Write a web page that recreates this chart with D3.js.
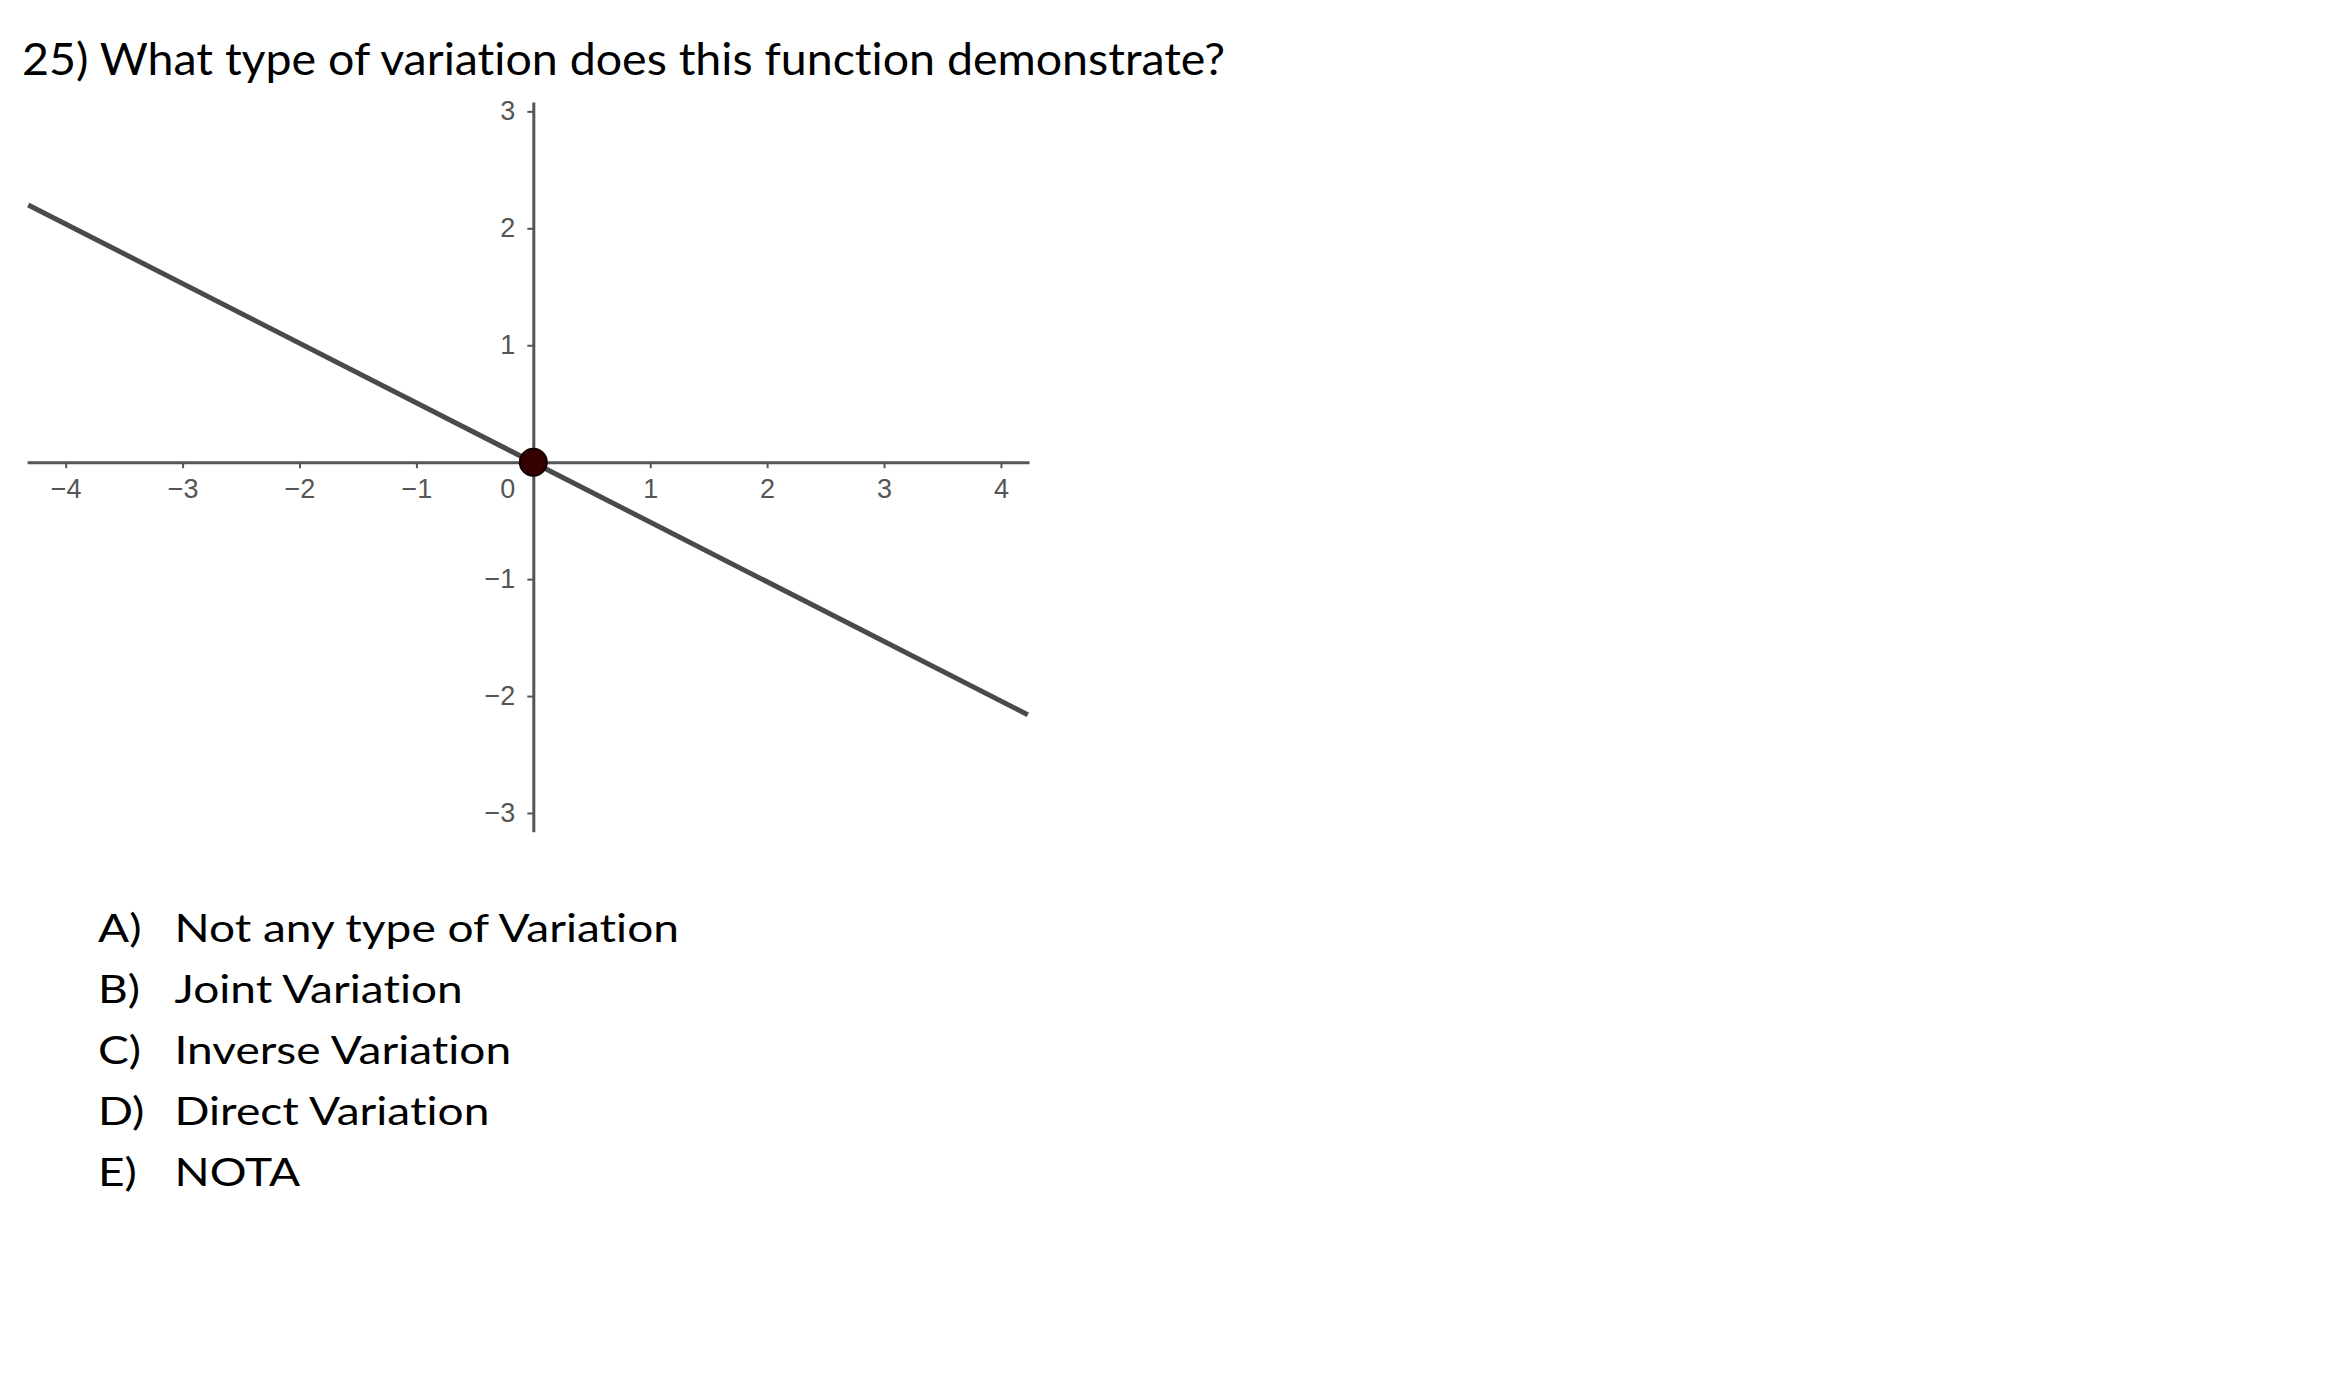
<!DOCTYPE html>
<html><head><meta charset="utf-8">
<script src="https://cdn.jsdelivr.net/npm/d3@7"></script>
<style>html,body{margin:0;padding:0;background:#fff;overflow:hidden}
text{font-variant-ligatures:none;font-feature-settings:"liga" 0,"clig" 0,"dlig" 0}</style>
</head><body>
<svg id="c" width="2330" height="1378"></svg>
<script>
// ---- data ----
const title = "25) What type of variation does this function demonstrate?";
const optionLetters = ["A)", "B)", "C)", "D)", "E)"];
const optionTexts = ["Not any type of Variation", "Joint Variation", "Inverse Variation", "Direct Variation", "NOTA"];
const xTicks = [-4, -3, -2, -1, 1, 2, 3, 4];
const yTicks = [-3, -2, -1, 1, 2, 3];
const xDomain = [-4.33, 4.24];
const yDomain = [-3.16, 3.08];
const lineX = [-4.32, 4.23];
const lineY = [2.2, -2.16];
const pointX = [0];
const pointY = [0];

// ---- drawing ----
const svg = d3.select("#c");
svg.append("rect").attr("width", 2330).attr("height", 1378).attr("fill", "#fff");

const x = d3.scaleLinear().domain(xDomain).range([27.1, 1029]);
const y = d3.scaleLinear().domain(yDomain).range([831.7, 102]);

const axisColor = "#555";
const labelColor = "#555";
const tickFont = "'Liberation Sans', Arial, sans-serif";

const fmt = d3.format("d");

// x axis
const gx = svg.append("g").attr("transform", `translate(0,${y(0)})`)
  .call(d3.axisBottom(x).tickValues(xTicks).tickSize(6).tickSizeOuter(0).tickFormat(fmt));
// y axis
const gy = svg.append("g").attr("transform", `translate(${x(0)},0)`)
  .call(d3.axisLeft(y).tickValues(yTicks).tickSize(6).tickSizeOuter(0).tickFormat(fmt));

[gx, gy].forEach(g => {
  g.select(".domain").attr("stroke", axisColor).attr("stroke-width", 3);
  g.selectAll(".tick line").attr("stroke", axisColor).attr("stroke-width", 2);
  g.selectAll(".tick text").attr("fill", labelColor)
    .style("font-family", tickFont).style("font-size", "27px");
});
gx.selectAll(".tick text").attr("y", 17);
gy.selectAll(".tick text").attr("x", -18);

// origin label
svg.append("text").attr("x", x(0) - 18).attr("y", y(0) + 36)
  .attr("text-anchor", "end").attr("fill", labelColor)
  .style("font-family", tickFont).style("font-size", "27px").text(fmt(0));

// line
const lineData = lineX.map((v, i) => [v, lineY[i]]);
svg.append("path").datum(lineData)
  .attr("d", d3.line().x(d => x(d[0])).y(d => y(d[1])))
  .attr("fill", "none").attr("stroke", "#4a4a4a").attr("stroke-width", 5);

// point
svg.selectAll("circle.pt").data(pointX.map((v, i) => [v, pointY[i]])).enter()
  .append("circle").attr("class", "pt")
  .attr("cx", d => x(d[0])).attr("cy", d => y(d[1])).attr("r", 13.5)
  .attr("fill", "#360000").attr("stroke", "#120000").attr("stroke-width", 2);

// title
const textFont = "Lato, 'Open Sans', sans-serif";
const t = svg.append("text").attr("x", 22).attr("y", 75)
  .style("font-family", textFont).style("font-size", "44.7px").attr("fill", "#000").text(title);
t.attr("textLength", 1203).attr("lengthAdjust", "spacingAndGlyphs");

// options
const optTargetW = 504.5;
const g = svg.append("g");
const texts = g.selectAll("text.opt").data(optionTexts).enter().append("text").attr("class", "opt")
  .attr("x", 174.5).attr("y", (d, i) => 942 + 61 * i)
  .style("font-family", textFont).style("font-size", "37.7px").attr("fill", "#000").text(d => d);
const natA = texts.nodes()[0].getComputedTextLength();
const sx = optTargetW / natA;
texts.each(function () {
  const w = this.getComputedTextLength();
  d3.select(this).attr("textLength", w * sx).attr("lengthAdjust", "spacingAndGlyphs");
});
const letters = g.selectAll("text.let").data(optionLetters).enter().append("text").attr("class", "let")
  .attr("x", 98).attr("y", (d, i) => 942 + 61 * i)
  .style("font-family", textFont).style("font-size", "37.7px").attr("fill", "#000").text(d => d);
letters.each(function () {
  const w = this.getComputedTextLength();
  d3.select(this).attr("textLength", w * sx).attr("lengthAdjust", "spacingAndGlyphs");
});
</script>
</body></html>
